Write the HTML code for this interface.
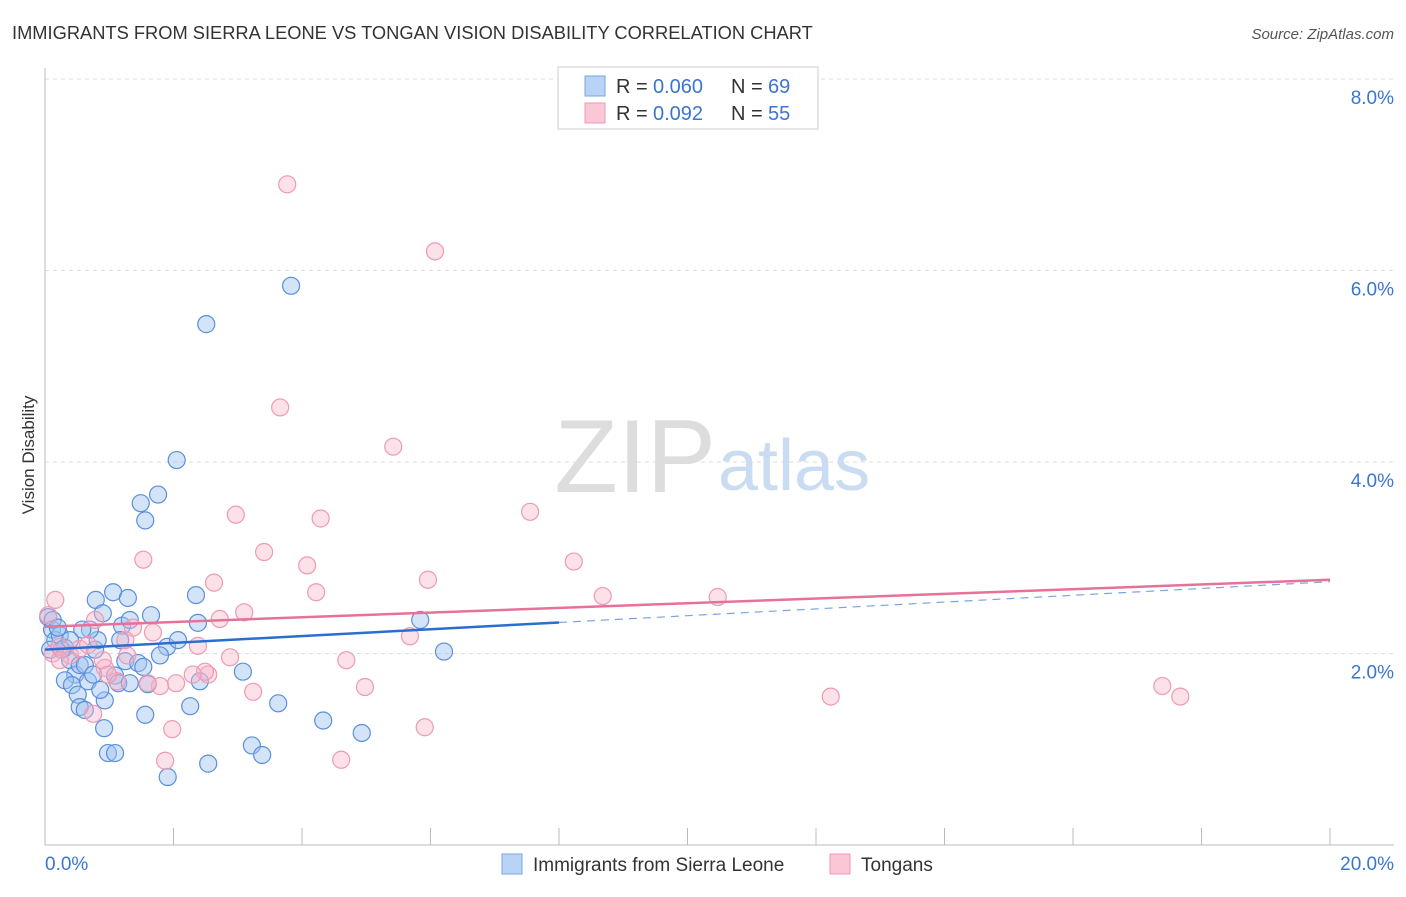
<!DOCTYPE html>
<html><head><meta charset="utf-8"><style>
body{margin:0;background:#fff;font-family:"Liberation Sans",sans-serif}
svg text{font-family:"Liberation Sans",sans-serif}
</style></head><body>
<svg id="c" width="1406" height="892">
<text x="12" y="39" font-size="18.3" fill="#333">IMMIGRANTS FROM SIERRA LEONE VS TONGAN VISION DISABILITY CORRELATION CHART</text>
<text x="1394" y="39" font-size="15" fill="#555" text-anchor="end" font-style="italic">Source: ZipAtlas.com</text>
<text x="0" y="0" transform="translate(34,455) rotate(-90)" font-size="17" fill="#333" text-anchor="middle">Vision Disability</text>
<g id="grid"></g>
<text x="716" y="492" font-size="104" fill="#ddd" text-anchor="end" font-family="Liberation Serif">ZIP</text>
<text x="718" y="490" font-size="72" fill="#c9dcf2">atlas</text>
<g id="pts"></g>
<g id="lines"></g>
<g>
<rect x="558" y="67" width="260" height="62" fill="#fff" stroke="#ccc"/>
<rect x="585" y="76" width="20" height="20" fill="#b8d3f5" stroke="#7aa6e0"/>
<rect x="585" y="103" width="20" height="20" fill="#fbc6d6" stroke="#ee9ab4"/>
<text x="616" y="93" font-size="20" fill="#333">R =</text>
<text x="653" y="93" font-size="20" fill="#3a76d0">0.060</text>
<text x="731" y="93" font-size="20" fill="#333">N =</text>
<text x="768" y="93" font-size="20" fill="#3a76d0">69</text>
<text x="616" y="120" font-size="20" fill="#333">R =</text>
<text x="653" y="120" font-size="20" fill="#3a76d0">0.092</text>
<text x="731" y="120" font-size="20" fill="#333">N =</text>
<text x="768" y="120" font-size="20" fill="#3a76d0">55</text>
</g>
<g>
<rect x="502" y="854" width="20" height="20" fill="#b8d3f5" stroke="#7aa6e0"/>
<text x="533" y="871" font-size="19" fill="#333">Immigrants from Sierra Leone</text>
<rect x="830" y="854" width="20" height="20" fill="#fbc6d6" stroke="#ee9ab4"/>
<text x="861" y="871" font-size="19" fill="#333">Tongans</text>
</g>
<text x="45" y="870" font-size="19" fill="#3a76d0">0.0%</text>
<text x="1394" y="870" font-size="19" fill="#3a76d0" text-anchor="end">20.0%</text>
</svg>
<script>
const yTicks=[2,4,6,8];
const yTickLabels=["2.0%","4.0%","6.0%","8.0%"];
const xTicks=[0,2,4,6,8,10,12,14,16,18,20];
const blueX=[0.05,0.11,0.16,0.23,0.08,0.31,0.39,0.47,0.54,0.31,0.42,0.51,0.54,0.62,0.67,0.75,0.78,0.82,0.7,0.58,0.79,0.9,1.06,1.29,1.2,1.17,1.09,0.93,1.14,1.25,1.32,1.45,1.53,1.56,0.92,0.98,1.09,1.65,1.6,1.9,2.07,2.38,2.26,2.35,2.41,1.91,2.54,3.08,3.22,3.38,3.63,4.33,4.93,5.84,6.21,1.49,1.56,1.76,2.05,2.51,3.83,0.12,0.2,0.26,0.86,1.79,0.62,0.39,1.32];
const blueY=[2.38,2.25,2.14,2.19,2.04,2.06,1.93,1.78,1.88,1.72,1.67,1.57,1.44,1.88,1.71,1.78,2.04,2.14,2.25,2.25,2.56,2.42,2.64,2.58,2.29,2.14,1.77,1.51,1.69,1.92,1.69,1.9,1.86,1.36,1.22,0.96,0.96,2.4,1.68,2.07,2.14,2.32,1.45,2.61,1.71,0.71,0.85,1.81,1.04,0.94,1.48,1.3,1.17,2.35,2.02,3.57,3.39,3.66,4.02,5.44,5.84,2.35,2.27,2.04,1.62,1.98,1.41,2.14,2.35];
const pinkX=[3.77,6.07,3.66,5.42,2.97,4.29,7.55,1.53,3.41,4.08,5.96,8.23,2.63,4.22,8.68,10.47,3.1,2.72,1.37,1.68,2.38,5.68,4.69,4.98,5.91,4.61,3.24,1.87,1.98,0.75,2.54,2.49,2.3,2.04,1.79,1.6,1.12,0.93,0.9,1.28,0.98,0.12,0.23,0.39,0.54,0.67,0.05,0.16,12.23,17.39,17.67,0.78,1.25,2.88,0.23];
const pinkY=[6.9,6.2,4.57,4.16,3.45,3.41,3.48,2.98,3.06,2.92,2.77,2.96,2.74,2.64,2.6,2.59,2.43,2.36,2.27,2.22,2.08,2.18,1.93,1.65,1.23,0.89,1.6,0.88,1.21,1.37,1.78,1.81,1.78,1.69,1.66,1.69,1.71,1.85,1.93,1.98,1.78,2.0,2.07,1.98,2.05,2.09,2.4,2.56,1.55,1.66,1.55,2.35,2.14,1.96,1.93];
const trendBlue=[2.04,0.0355];
const trendPink=[2.28,0.0245];
const X=v=>45+v*64.25, Y=v=>845-v*95.75;
const ns="http://www.w3.org/2000/svg";
function mk(t,a,p){const e=document.createElementNS(ns,t);for(const k in a)e.setAttribute(k,a[k]);p.appendChild(e);return e;}
const g=document.getElementById('grid');
yTicks.forEach((v,i)=>{
 const l=mk('line',{x1:45,x2:1394,y1:Y(v),y2:Y(v),stroke:'#ddd','stroke-dasharray':'4,4'},g);
 
 
 const t=mk('text',{x:1394,y:Y(v)+25,'font-size':19,fill:'#3a76d0','text-anchor':'end'},g);
 t.textContent=yTickLabels[i];
 
 
});
const ax=mk('line',{x1:45,x2:45,y1:68,y2:845,stroke:'#bbb'},g);


const bx=mk('line',{x1:45,x2:1394,y1:845,y2:845,stroke:'#bbb'},g);


xTicks.forEach(v=>{const t=mk('line',{x1:X(v),x2:X(v),y1:828,y2:845,stroke:'#bbb'},g);
 
 });
const p=document.getElementById('pts');
blueX.forEach((v,i)=>{const c=mk('circle',{cx:X(v),cy:Y(blueY[i]),r:8.5,fill:'rgba(160,196,240,0.45)',stroke:'#5a8fdc','stroke-width':1.2},p);
 
 });
pinkX.forEach((v,i)=>{const c=mk('circle',{cx:X(v),cy:Y(pinkY[i]),r:8.5,fill:'rgba(248,180,200,0.4)',stroke:'#ee9ab4','stroke-width':1.2},p);
 
 });
const L=document.getElementById('lines');
const f=(t,x)=>t[0]+t[1]*x;
let l1=mk('line',{x1:X(0),y1:Y(f(trendBlue,0)),x2:X(8),y2:Y(f(trendBlue,8)),stroke:'#2a6fd0','stroke-width':2.5},L);


let l2=mk('line',{x1:X(8),y1:Y(f(trendBlue,8)),x2:X(20),y2:Y(f(trendBlue,20)),stroke:'#7aa6e0','stroke-width':1.2,'stroke-dasharray':'8,6'},L);


let l3=mk('line',{x1:X(0),y1:Y(f(trendPink,0)),x2:X(20),y2:Y(f(trendPink,20)),stroke:'#e8719a','stroke-width':2.5},L);


</script>
</body></html>
